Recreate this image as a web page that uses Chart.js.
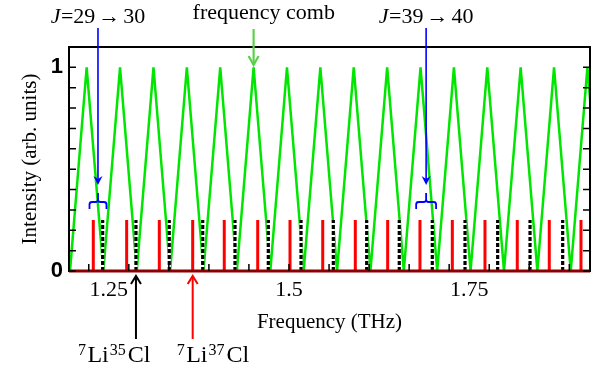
<!DOCTYPE html>
<html><head><meta charset="utf-8">
<script src="https://cdn.jsdelivr.net/npm/chart.js@4.4.1/dist/chart.umd.min.js"></script>
<style>html,body{margin:0;padding:0;background:#fff;}#wrap{width:604px;height:373px;position:relative;}</style>
</head><body><div id="wrap"><canvas id="c" width="604" height="373"></canvas></div>
<script>
// ---- data (frequencies in THz, intensities in arb. units) ----
const combValleys = [1.1962, 1.2425, 1.2888, 1.3351, 1.3814, 1.4277, 1.4741, 1.5204, 1.5667, 1.6130, 1.6593, 1.7056, 1.7519, 1.7983, 1.8446, 1.8909, 1.9372];
const combPeaks   = [1.2193, 1.2656, 1.3120, 1.3583, 1.4046, 1.4509, 1.4972, 1.5435, 1.5898, 1.6362, 1.6825, 1.7288, 1.7751, 1.8214, 1.8677, 1.9140];
const combPeakIntensity = [1,1,1,1,1,1,1,1,1,1,1,1,1,1,1,1];
const li37Freqs = [1.2285, 1.2748, 1.3201, 1.3664, 1.4102, 1.4566, 1.5014, 1.5468, 1.5920, 1.6369, 1.6817, 1.7266, 1.7719, 1.8167, 1.8611, 1.9051];
const li37Intensity = [0.25,0.25,0.25,0.25,0.25,0.25,0.25,0.25,0.25,0.25,0.25,0.25,0.25,0.25,0.25,0.25];
const li35Freqs = [1.2415, 1.2877, 1.3339, 1.3803, 1.4251, 1.4713, 1.5167, 1.5615, 1.6078, 1.6530, 1.6988, 1.7442, 1.7895, 1.8344, 1.8797];
const li35Intensity = [0.25,0.25,0.25,0.25,0.25,0.25,0.25,0.25,0.25,0.25,0.25,0.25,0.25,0.25,0.25];
const xTickLabels = [1.25, 1.5, 1.75];
const xMinorTicks = [1.2222, 1.2778, 1.3333, 1.3889, 1.4444, 1.5, 1.5556, 1.6111, 1.6667, 1.7222, 1.7778, 1.8333, 1.8889];
const yTickLabels = [0, 1];
const yMinorTicks = [0, 0.1, 0.2, 0.3, 0.4, 0.5, 0.6, 0.7, 0.8, 0.9, 1.0];
const xRange = [1.1948, 1.9176];
const yRange = [0, 1.1];

// ---- build datasets ----
const combData = [];
combValleys.forEach((v, i) => {
  combData.push({x: v, y: 0});
  if (i < combPeaks.length) combData.push({x: combPeaks[i], y: combPeakIntensity[i]});
});
function sticks(freqs, ints) {
  const d = [];
  freqs.forEach((f, i) => { d.push({x: f, y: 0}); d.push({x: f, y: ints[i]}); d.push({x: f, y: null}); });
  return d;
}
const redData = sticks(li37Freqs, li37Intensity);
const blackData = sticks(li35Freqs, li35Intensity);

const SERIF = '"Liberation Serif", "Times New Roman", serif';

function drawText(ctx, pieces, x, baseline) {
  let cx = x;
  pieces.forEach(p => {
    ctx.font = p.font;
    ctx.fillText(p.t, cx, baseline + (p.dy || 0));
    cx += ctx.measureText(p.t).width + (p.gap || 0);
  });
}
function textWidth(ctx, pieces) {
  let w = 0;
  pieces.forEach(p => { ctx.font = p.font; w += ctx.measureText(p.t).width + (p.gap || 0); });
  return w;
}

const annot = {
  id: 'annot',
  afterDraw(chart) {
    const {ctx, chartArea: ca, scales: {x: xs, y: ys}} = chart;
    ctx.save();
    // frame
    ctx.strokeStyle = '#000'; ctx.lineWidth = 2;
    ctx.strokeRect(ca.left, ca.top, ca.right - ca.left, ca.bottom - ca.top);
    ctx.strokeStyle = '#8b0000'; ctx.lineWidth = 3;
    ctx.beginPath(); ctx.moveTo(ca.left, ca.bottom); ctx.lineTo(ca.right, ca.bottom); ctx.stroke();
    // inward ticks
    ctx.strokeStyle = '#000'; ctx.lineWidth = 1.5;
    ctx.beginPath();
    xMinorTicks.forEach(v => { const px = xs.getPixelForValue(v); ctx.moveTo(px, ca.bottom); ctx.lineTo(px, ca.bottom - 7); });
    yMinorTicks.forEach(v => {
      const py = ys.getPixelForValue(v);
      ctx.moveTo(ca.left, py); ctx.lineTo(ca.left + 7, py);
      ctx.moveTo(ca.right, py); ctx.lineTo(ca.right - 7, py);
    });
    ctx.stroke();

    ctx.fillStyle = '#000';
    ctx.textBaseline = 'alphabetic';
    ctx.textAlign = 'left';

    // J annotations
    const jAnn = [{i: 0, from: '29', to: '30'}, {i: 10, from: '39', to: '40'}];
    jAnn.forEach(a => {
      const rx = xs.getPixelForValue(li37Freqs[a.i]);
      const bx = xs.getPixelForValue(li35Freqs[a.i]);
      const cx = (rx + bx) / 2;
      const pieces = [
        {t: 'J', font: 'italic 22px ' + SERIF, gap: 0.5},
        {t: '=' + a.from, font: '22px ' + SERIF, gap: 3},
        {t: '\u2192', font: '22px ' + SERIF, gap: 3},
        {t: a.to, font: '22px ' + SERIF}
      ];
      const w = textWidth(ctx, pieces);
      ctx.fillStyle = '#000';
      drawText(ctx, pieces, cx - w / 2, 22.5);
      // blue arrow
      ctx.strokeStyle = '#0000ff'; ctx.fillStyle = '#0000ff'; ctx.lineWidth = 1.6;
      ctx.beginPath(); ctx.moveTo(cx, 28); ctx.lineTo(cx, 180); ctx.stroke();
      ctx.beginPath(); ctx.moveTo(cx - 4.5, 176); ctx.lineTo(cx, 185); ctx.lineTo(cx + 4.5, 176); ctx.lineTo(cx, 179); ctx.closePath(); ctx.fill();
      // brace
      const x1 = rx - 3.8, x2 = bx + 3.8, yb = 202;
      ctx.lineWidth = 1.8;
      ctx.beginPath();
      ctx.moveTo(x1, 209); ctx.lineTo(x1, yb + 2.5); ctx.quadraticCurveTo(x1, yb, x1 + 2.5, yb);
      ctx.lineTo(cx - 2.5, yb); ctx.quadraticCurveTo(cx, yb, cx, yb - 2.5); ctx.lineTo(cx, 193);
      ctx.moveTo(cx, yb - 2.5); ctx.quadraticCurveTo(cx, yb, cx + 2.5, yb);
      ctx.lineTo(x2 - 2.5, yb); ctx.quadraticCurveTo(x2, yb, x2, yb + 2.5); ctx.lineTo(x2, 209);
      ctx.stroke();
    });

    // frequency comb label + arrow
    const gx = xs.getPixelForValue(combPeaks[5]);
    ctx.fillStyle = '#000';
    ctx.font = '22px ' + SERIF;
    ctx.fillText('frequency comb', gx - 61, 19);
    ctx.strokeStyle = '#5cd04a'; ctx.lineWidth = 2.2;
    ctx.beginPath(); ctx.moveTo(gx, 29); ctx.lineTo(gx, 64); ctx.stroke();
    ctx.beginPath(); ctx.moveTo(gx - 5, 56); ctx.lineTo(gx, 65); ctx.lineTo(gx + 5, 56); ctx.stroke();

    // isotope arrows + labels
    const iso = [
      {f: li35Freqs[1], color: '#000', mass: '35', off: -58},
      {f: li37Freqs[3], color: '#ff0000', mass: '37', off: -16}
    ];
    iso.forEach(s => {
      const ax = xs.getPixelForValue(s.f);
      ctx.strokeStyle = s.color; ctx.lineWidth = 2;
      ctx.beginPath(); ctx.moveTo(ax, ca.bottom + 5); ctx.lineTo(ax, 339); ctx.stroke();
      ctx.beginPath(); ctx.moveTo(ax - 5, ca.bottom + 13); ctx.lineTo(ax, ca.bottom + 5); ctx.lineTo(ax + 5, ca.bottom + 13); ctx.stroke();
      ctx.fillStyle = '#000';
      drawText(ctx, [
        {t: '7', font: '16px ' + SERIF, dy: -7.5, gap: 1.5},
        {t: 'Li', font: '24px ' + SERIF, gap: 1},
        {t: s.mass, font: '16px ' + SERIF, dy: -7.5, gap: 2},
        {t: 'Cl', font: '24px ' + SERIF}
      ], ax + s.off, 362);
    });
    ctx.restore();
  }
};

new Chart(document.getElementById('c'), {
  type: 'line',
  data: {
    datasets: [
      {label: '7Li35Cl', data: blackData, borderColor: '#000', borderWidth: 3.2, borderDash: [4, 2], pointRadius: 0, spanGaps: false, order: 0},
      {label: 'underlay', data: blackData, borderColor: '#fff', borderWidth: 3, pointRadius: 0, spanGaps: false, order: 1},
      {label: '7Li37Cl', data: redData, borderColor: '#ff0000', borderWidth: 3, pointRadius: 0, spanGaps: false, order: 2},
      {label: 'frequency comb', data: combData, borderColor: '#00e600', borderWidth: 2.5, pointRadius: 0, order: 3}
    ]
  },
  options: {
    responsive: false, animation: false, devicePixelRatio: 1,
    layout: {padding: {top: 47, right: 14, left: 0, bottom: 0}},
    plugins: {legend: {display: false}, tooltip: {enabled: false}},
    elements: {line: {tension: 0}, point: {radius: 0}},
    scales: {
      x: {
        type: 'linear', min: xRange[0], max: xRange[1],
        afterBuildTicks: s => { s.ticks = xTickLabels.map(v => ({value: v})); },
        ticks: {font: {family: SERIF, size: 22}, color: '#000', padding: 6, maxRotation: 0, autoSkip: false, callback: v => String(v)},
        grid: {display: false, drawTicks: false}, border: {display: false},
        title: {display: true, text: 'Frequency (THz)', font: {family: SERIF, size: 21}, color: '#000', padding: {top: 0, bottom: 38}},
        afterFit: s => { s.height = 102; }
      },
      y: {
        type: 'linear', min: yRange[0], max: yRange[1],
        afterBuildTicks: s => { s.ticks = yTickLabels.map(v => ({value: v})); },
        ticks: {font: {family: '"Liberation Sans", Arial, sans-serif', size: 22, weight: 'bold'}, color: '#000', padding: 6, callback: v => String(v)},
        grid: {display: false, drawTicks: false}, border: {display: false},
        title: {display: true, text: 'Intensity (arb. units)', font: {family: SERIF, size: 21}, color: '#000', padding: {top: 18, bottom: 0}},
        afterFit: s => { s.width = 69; }
      }
    }
  },
  plugins: [annot]
});
</script>
</body></html>
